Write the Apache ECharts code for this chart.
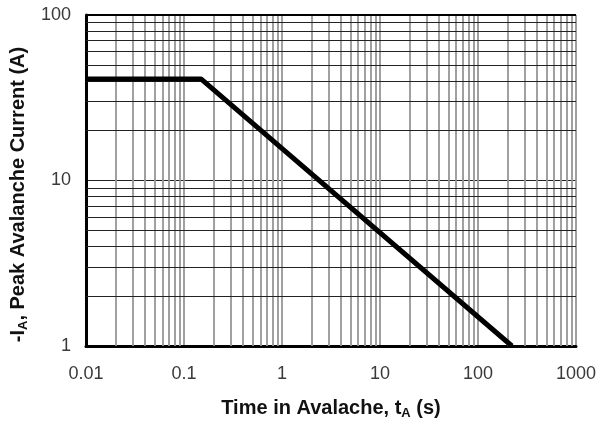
<!DOCTYPE html>
<html>
<head>
<meta charset="utf-8">
<script src="https://cdn.jsdelivr.net/npm/echarts@6/dist/echarts.min.js"></script>
<style>
  html, body { margin: 0; padding: 0; background: #fff; }
  #chart { width: 599px; height: 425px; }
</style>
</head>
<body>
<div id="chart"></div>
<script>
// avalanche current vs time (log-log)
const timeValues = [0.01, 0.15, 222];
const currentValues = [41, 41, 1];

const xDecades = [0.01, 0.1, 1, 10, 100];
const yDecades = [1, 10];
const minorSteps = [2, 3, 4, 5, 6, 7, 8, 9];

const colors = {
  line: '#000000',
  hGrid: '#222222', // horizontal grid lines
  vGrid: '#969696', // vertical grid lines
  label: '#3a3a3a'
};

const chart = echarts.init(document.getElementById('chart'));

const fmt = v => String(Number(v.toPrecision(3)));

const vLines = [];
xDecades.forEach(d => minorSteps.forEach(k => vLines.push({ xAxis: Number((k * d).toPrecision(3)) })));
const hLines = [];
yDecades.forEach(d => minorSteps.forEach(k => hLines.push({ yAxis: k * d })));

const titleRich = {
  b: { fontFamily: 'Liberation Sans', fontWeight: 'bold', fontSize: 20, color: '#111' },
  s: { fontFamily: 'Liberation Sans', fontWeight: 'bold', fontSize: 13, color: '#111', verticalAlign: 'bottom', padding: [10, 0, 0, 0] }
};

const option = {
  animation: false,
  backgroundColor: '#fff',
  grid: { left: 86, right: 22, top: 15, bottom: 78 },
  xAxis: {
    type: 'log',
    logBase: 10,
    min: 0.01,
    max: 1000,
    name: '{b|Time in Avalache, t}{s|A}{b| (s)}',
    nameLocation: 'middle',
    nameGap: 51,
    nameTextStyle: { rich: titleRich },
    axisLine: { show: true, onZero: false, lineStyle: { color: '#000', width: 3 } },
    axisTick: { show: false },
    axisLabel: { color: colors.label, fontFamily: 'Liberation Sans', fontSize: 18, margin: 19, formatter: fmt },
    splitLine: { show: true, lineStyle: { color: colors.vGrid, width: 1.8 } }
  },
  yAxis: {
    type: 'log',
    logBase: 10,
    min: 1,
    max: 100,
    name: '{b|-I}{s|A}{b|, Peak Avalanche Current (A)}',
    nameLocation: 'middle',
    nameGap: 53,
    nameTextStyle: { rich: titleRich, padding: [0, 28, 0, 0] },
    axisLine: { show: true, onZero: false, lineStyle: { color: '#000', width: 3 } },
    axisTick: { show: false },
    axisLabel: { color: colors.label, fontFamily: 'Liberation Sans', fontSize: 18, margin: 15, formatter: fmt },
    splitLine: { show: true, lineStyle: { color: colors.hGrid, width: 1.2 } }
  },
  series: [
    {
      type: 'line',
      silent: true,
      data: [],
      markLine: {
        silent: true,
        symbol: ['none', 'none'],
        label: { show: false },
        lineStyle: { color: colors.vGrid, width: 1.8, type: 'solid' },
        data: vLines
      }
    },
    {
      type: 'line',
      silent: true,
      data: [],
      markLine: {
        silent: true,
        symbol: ['none', 'none'],
        label: { show: false },
        lineStyle: { color: colors.hGrid, width: 1.2, type: 'solid' },
        data: hLines.concat([{ yAxis: 100, lineStyle: { color: '#000', width: 2 } }])
      }
    },
    {
      type: 'line',
      data: timeValues.map((t, i) => [t, currentValues[i]]),
      showSymbol: false,
      lineStyle: { color: colors.line, width: 5 },
      z: 5
    }
  ]
};

chart.setOption(option);
window.addEventListener('resize', () => chart.resize());
</script>
</body>
</html>
